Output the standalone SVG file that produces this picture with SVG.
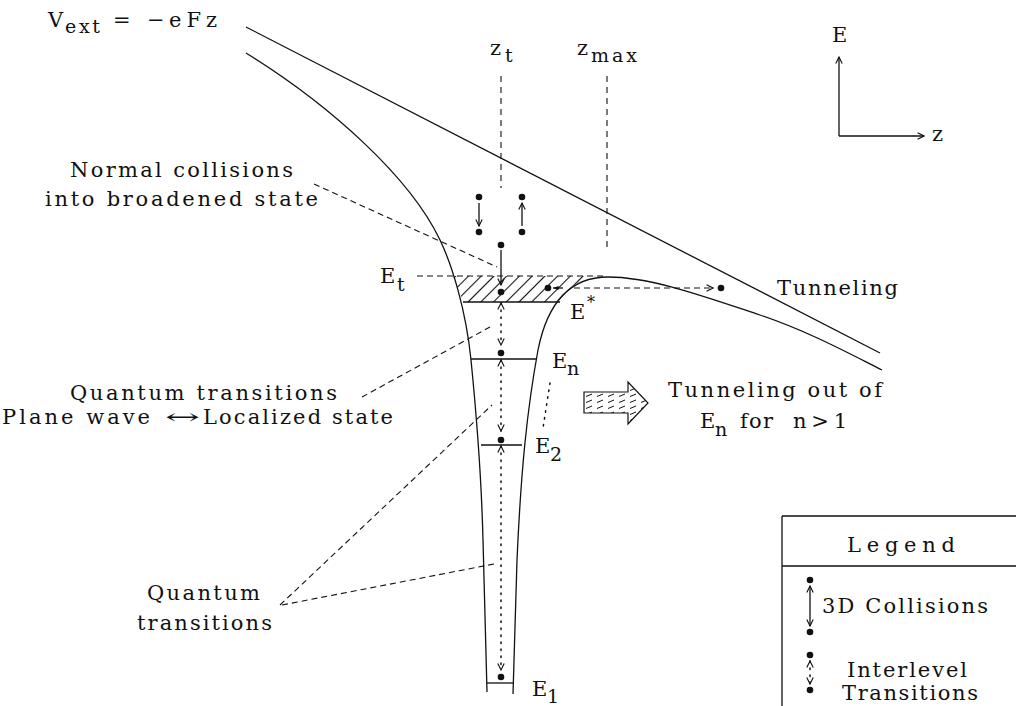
<svg xmlns="http://www.w3.org/2000/svg" width="1016" height="706" viewBox="0 0 1016 706">
<defs>
<style>
text{font-family:"DejaVu Serif","Liberation Serif",serif;font-size:21px;fill:#111}
.sub{font-size:19px}
.ln{fill:none;stroke:#111;stroke-width:1.3}
.dash{fill:none;stroke:#111;stroke-width:1.1;stroke-dasharray:6 4}
.vd{fill:none;stroke:#111;stroke-width:1.1;stroke-dasharray:6 5}
.dot{fill:none;stroke:#111;stroke-width:1.5;stroke-dasharray:1.5 5.5;stroke-linecap:round}
.pt{fill:#111}
</style>
<marker id="ah" viewBox="0 0 10 10" refX="9" refY="5" markerWidth="8" markerHeight="8" markerUnits="userSpaceOnUse" orient="auto-start-reverse"><path d="M1,1 L9,5 L1,9" fill="none" stroke="#111" stroke-width="1.4"/></marker>
<marker id="ahf" viewBox="0 0 10 10" refX="9" refY="5" markerWidth="7" markerHeight="7" markerUnits="userSpaceOnUse" orient="auto"><path d="M1,2 L9,5 L1,8 Z" fill="#111"/></marker>
<pattern id="hatch" patternUnits="userSpaceOnUse" width="9" height="9" patternTransform="rotate(45)"><line x1="4.5" y1="0" x2="4.5" y2="9" stroke="#111" stroke-width="1.1"/></pattern>
<pattern id="dsh" patternUnits="userSpaceOnUse" x="584" y="392" width="11" height="6"><line x1="2" y1="4.5" x2="8" y2="2" stroke="#111" stroke-width="1"/></pattern>
<clipPath id="hc"><path d="M453,276 L596,276 C590,278 578,281 571,288 C565,293 561,298 558,302 L463,302 C459,292 456,284 453,276 Z"/></clipPath>
</defs>
<rect width="1016" height="706" fill="#fff"/>

<g id="potential">
<path class="ln" d="M246,27 L880,353"/>
<path class="ln" d="M246,53 C330,105 410,177 440,240 C452,265 466,310 471,360 C475,400 481,460 483,540 L487,692"/>
<path class="ln" d="M513,694 L517,560 C521,470 527,410 538,350 C548,300 572,277 608,277 C650,277 700,295 760,315 C810,332 850,354 882,370"/>
<path class="ln" d="M487,683 L513,683"/>
</g>

<g id="broadened-state">
<rect x="440" y="270" width="170" height="40" fill="url(#hatch)" clip-path="url(#hc)"/>
<path class="ln" d="M463,302 L560,302"/>
</g>

<g id="levels">
<path class="ln" d="M471,359 L536,359"/>
<path class="ln" d="M481,445 L522,445"/>
</g>

<g id="axes">
<path class="ln" d="M839,136 L839,57" marker-end="url(#ah)"/>
<path class="ln" d="M839,136 L924,136" marker-end="url(#ah)"/>
<text x="832" y="42">E</text>
<text x="932" y="141">z</text>
</g>

<g id="connectors">
<path class="vd" d="M501,76 L501,188"/>
<path class="vd" d="M607,76 L607,250"/>
<path class="dash" d="M417,276 L603,276"/>
<path class="dash" d="M314,184 L497,267"/>
<path class="dash" d="M362,397 L490,327"/>
<path class="dash" d="M280,605 L492,405"/>
<path class="dash" d="M282,605 L494,564"/>
<path class="ln" d="M479,203 L479,226" marker-end="url(#ah)"/>
<path class="ln" d="M522,226 L522,203" marker-end="url(#ah)"/>
<path class="ln" d="M501,250 L501,285" marker-end="url(#ah)"/>
<path class="dot" d="M501,303 L501,345" marker-start="url(#ah)" marker-end="url(#ah)"/>
<path class="dot" d="M501,360 L501,431" marker-start="url(#ah)" marker-end="url(#ah)"/>
<path class="dot" d="M501,446 L501,670" marker-start="url(#ah)" marker-end="url(#ah)"/>
<path class="ln" d="M563,288 L553,288" marker-end="url(#ahf)"/>
<path class="dash" d="M574,288 L713,288" marker-end="url(#ah)"/>
<path class="dot" d="M550,383 L543,428"/>
</g>

<g id="particles">
<circle class="pt" cx="479" cy="197" r="3.3"/>
<circle class="pt" cx="479" cy="232" r="3.3"/>
<circle class="pt" cx="522" cy="197" r="3.3"/>
<circle class="pt" cx="522" cy="232" r="3.3"/>
<circle class="pt" cx="501" cy="245" r="3.3"/>
<circle class="pt" cx="501" cy="292" r="3.3"/>
<circle class="pt" cx="548" cy="288" r="3.3"/>
<circle class="pt" cx="721" cy="288" r="3.3"/>
<circle class="pt" cx="501" cy="353" r="3.3"/>
<circle class="pt" cx="501" cy="440" r="3.3"/>
<circle class="pt" cx="501" cy="677" r="3.3"/>
</g>

<g id="tunnel-arrow">
<path d="M584,392 L628,392 L628,382 L648,403 L628,424 L628,413 L584,413 Z" fill="url(#dsh)" stroke="#111" stroke-width="1.2"/>
</g>

<g id="labels">
<text><tspan x="48" y="27">V</tspan><tspan class="sub" x="65" y="33" textLength="35">ext</tspan><tspan x="113" y="27">=</tspan><tspan x="147" y="27">−</tspan><tspan x="169" y="27" textLength="48">eFz</tspan></text>
<text><tspan x="490" y="55">z</tspan><tspan class="sub" x="505" y="62">t</tspan></text>
<text><tspan x="577" y="55">z</tspan><tspan class="sub" x="591" y="62" textLength="46">max</tspan></text>
<text x="70" y="177" textLength="223">Normal collisions</text>
<text x="45" y="206" textLength="273">into broadened state</text>
<text><tspan x="380" y="283">E</tspan><tspan class="sub" x="397" y="291">t</tspan></text>
<text><tspan x="570" y="319">E</tspan><tspan font-size="16" x="587" y="308">*</tspan></text>
<text x="777" y="295" textLength="121">Tunneling</text>
<text><tspan x="552" y="368">E</tspan><tspan class="sub" x="567" y="375">n</tspan></text>
<text><tspan x="535" y="453">E</tspan><tspan class="sub" x="550" y="461">2</tspan></text>
<text><tspan x="532" y="696">E</tspan><tspan class="sub" x="547" y="703">1</tspan></text>
<text x="668" y="397" textLength="214">Tunneling out of</text>
<text><tspan x="700" y="428">E</tspan><tspan class="sub" x="715" y="436">n</tspan><tspan x="740" y="428" textLength="33">for</tspan><tspan x="793" y="428" textLength="54">n&gt;1</tspan></text>
<text x="70" y="400" textLength="267">Quantum transitions</text>
<text><tspan x="2" y="424" textLength="148">Plane wave</tspan><tspan x="165" y="424" textLength="35" lengthAdjust="spacingAndGlyphs">↔</tspan><tspan x="203" y="424" textLength="190">Localized state</tspan></text>
<text x="147" y="600" textLength="113">Quantum</text>
<text x="137" y="630" textLength="135">transitions</text>
</g>

<g id="legend">
<path class="ln" d="M782,516 L1016,516 M782,516 L782,706 M782,566 L1016,566"/>
<text x="847" y="552" font-size="25" textLength="108">Legend</text>
<circle class="pt" cx="810" cy="580" r="3.3"/>
<path class="ln" d="M810,586 L810,626" marker-start="url(#ah)" marker-end="url(#ah)"/>
<circle class="pt" cx="810" cy="632" r="3.3"/>
<text x="822" y="613" textLength="166">3D Collisions</text>
<circle class="pt" cx="810" cy="655" r="3.3"/>
<path class="dot" d="M810,661 L810,684" marker-start="url(#ah)" marker-end="url(#ah)"/>
<circle class="pt" cx="810" cy="690" r="3.3"/>
<text x="847" y="677" textLength="120">Interlevel</text>
<text x="842" y="700" textLength="136">Transitions</text>
</g>
</svg>
